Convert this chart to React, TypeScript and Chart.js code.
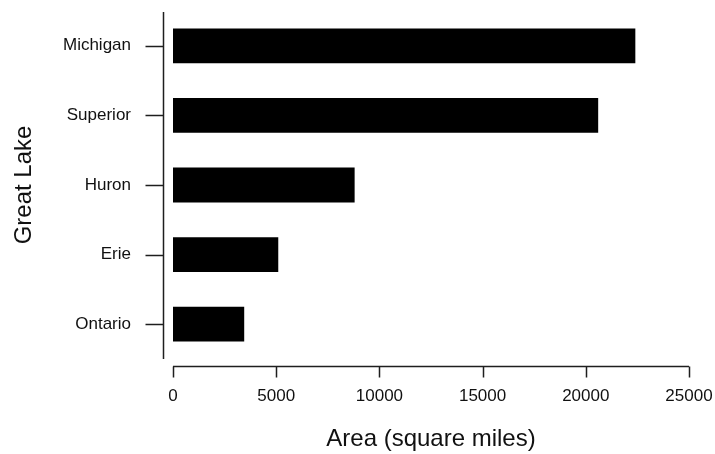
import React, { useEffect, useRef } from "react";
import { Chart, registerables } from "chart.js";

Chart.register(...registerables);

const lakes = ["Michigan", "Superior", "Huron", "Erie", "Ontario"];
const areas = [22400, 20600, 8800, 5100, 3450];
const xTicks = [0, 5000, 10000, 15000, 20000, 25000];
const xTitle = "Area (square miles)";
const yTitle = "Great Lake";

const FONT = "'Liberation Sans', Arial, Helvetica, sans-serif";
const TEXT = "#111111";
const LINE = "#1e1e1e";

const axesPlugin = {
  id: "rStyleAxes",
  afterDraw(chart: any) {
    const ctx = chart.ctx;
    const xs = chart.scales.x;
    const ys = chart.scales.y;
    const area = chart.chartArea;
    ctx.save();
    ctx.strokeStyle = LINE;
    ctx.lineWidth = 1.5;
    ctx.beginPath();
    // y axis line + ticks
    const ax = area.left - 9.5;
    ctx.moveTo(ax, area.top + 1);
    ctx.lineTo(ax, area.bottom);
    lakes.forEach((_, i) => {
      const py = Math.round(ys.getPixelForValue(i)) + 0.5;
      ctx.moveTo(ax - 18, py);
      ctx.lineTo(ax, py);
    });
    // x axis line + ticks
    const ay = area.bottom + 7.5;
    const x0 = xs.getPixelForValue(xTicks[0]);
    const x1 = xs.getPixelForValue(xTicks[xTicks.length - 1]);
    ctx.moveTo(x0, ay);
    ctx.lineTo(x1, ay);
    xTicks.forEach((v) => {
      const px = Math.round(xs.getPixelForValue(v)) + 0.5;
      ctx.moveTo(px, ay);
      ctx.lineTo(px, ay + 11);
    });
    ctx.stroke();
    ctx.restore();
  },
};

export default function App() {
  const ref = useRef<HTMLCanvasElement | null>(null);

  useEffect(() => {
    if (!ref.current) return;
    const chart = new Chart(ref.current, {
      type: "bar",
      data: {
        labels: lakes,
        datasets: [
          {
            data: areas,
            backgroundColor: "#000000",
            borderWidth: 0,
            barPercentage: 0.5,
            categoryPercentage: 1,
          },
        ],
      },
      options: {
        indexAxis: "y",
        responsive: false,
        animation: false,
        devicePixelRatio: 1,
        layout: { padding: { top: 11, right: 26, left: 0, bottom: 0 } },
        plugins: {
          legend: { display: false },
          tooltip: { enabled: false },
        },
        scales: {
          x: {
            type: "linear",
            min: 0,
            max: 25000,
            grid: { display: false, drawTicks: false },
            border: { display: false },
            afterBuildTicks: (s: any) => {
              s.ticks = xTicks.map((v) => ({ value: v }));
            },
            ticks: {
              color: TEXT,
              font: { family: FONT, size: 17 },
              padding: 27,
              maxRotation: 0,
              autoSkip: false,
              callback: (v: any) => String(v),
            },
            title: {
              display: true,
              text: xTitle,
              color: TEXT,
              font: { family: FONT, size: 24 },
              padding: { top: 0, bottom: 0 },
            },
            afterFit: (s: any) => {
              s.height = 95;
              s.paddingLeft = 0;
              s.paddingRight = 0;
            },
          },
          y: {
            type: "category",
            offset: true,
            grid: { display: false, drawTicks: false },
            border: { display: false },
            ticks: {
              color: TEXT,
              font: { family: FONT, size: 17 },
              padding: 42,
            },
            title: {
              display: true,
              text: yTitle,
              color: TEXT,
              font: { family: FONT, size: 24 },
              padding: { top: 10, bottom: 0 },
            },
            afterFit: (s: any) => {
              s.width = 173;
              s.paddingTop = 0;
              s.paddingBottom = 0;
            },
          },
        },
      } as any,
      plugins: [axesPlugin],
    });
    return () => chart.destroy();
  }, []);

  return (
    <div style={{ position: "absolute", left: 0, top: 0, width: 715, height: 454, background: "#fff" }}>
      <canvas ref={ref} width={715} height={454} style={{ display: "block" }} />
    </div>
  );
}
